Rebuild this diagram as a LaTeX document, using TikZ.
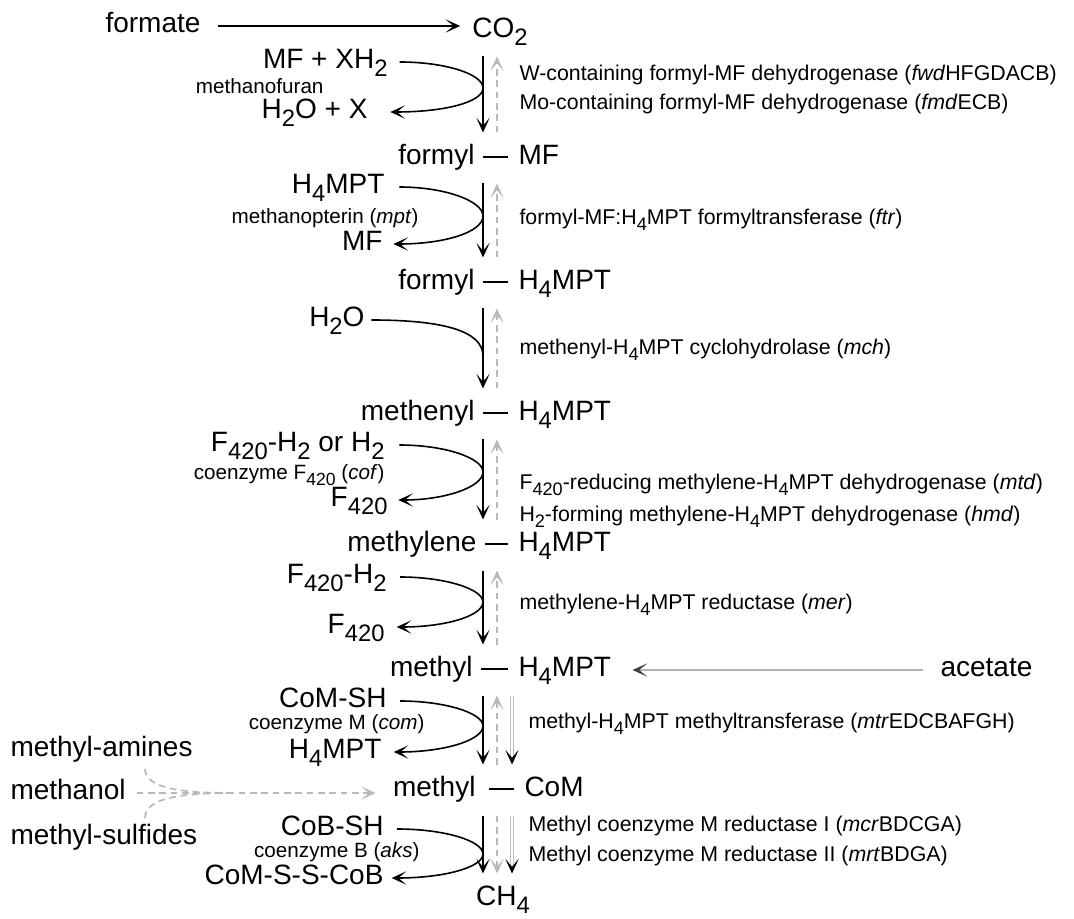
\documentclass[tikz,border=0pt]{standalone}
\usepackage{fontspec}
\setmainfont{Liberation Sans}
\usepackage{graphicx}
\usetikzlibrary{arrows.meta}

\newcommand{\lo}[1]{\raisebox{-0.28em}{\scalebox{0.85}{#1}}}

\tikzset{every picture/.style={line width=0.75pt}}
\tikzset{
  cpd/.style={inner sep=0.75pt, font=\fontsize{21}{25}\selectfont, text height=15pt, text depth=5pt},
  enz/.style={inner sep=0.75pt, anchor=west, font=\fontsize{16}{19}\selectfont},
  cof/.style={inner sep=0.75pt, anchor=east, font=\fontsize{15.5}{18}\selectfont},
  fwd/.style={line width=1.5pt, -{Stealth[length=11pt,width=10pt,inset=6pt]}, shorten <=8pt, shorten >=8pt},
  alt/.style={line width=1.3pt, color=gray!55, dash pattern=on 5pt off 3.5pt, -{Stealth[length=11pt,width=10pt,inset=6pt]}, shorten <=8pt, shorten >=8pt},
  hollow/.style={draw=gray!50, double=white, double distance=1.5pt, line width=0.5pt, -{Stealth[length=11pt,width=10pt,inset=6pt,color=black]}, shorten <=8pt, shorten >=8pt},
  side/.style={line width=1.2pt, -{Stealth[length=11pt,width=10pt,inset=6pt]}},
  bond/.style={line width=1.1pt},
}

\begin{document}
\begin{tikzpicture}[x=0.75pt,y=0.75pt,yscale=-1,xscale=1]
\useasboundingbox (0,0) rectangle (1074,919);

% Text Node
\node[cpd,anchor=west] (fmt) at (104,26) {formate};
% Text Node
\node[cpd] (co2) at (500,31) {CO\lo{2}};
%Straight Lines
\draw[side, line width=1.1pt, shorten <=12pt, shorten >=8pt] (fmt.east) -- (fmt.east -| co2.west);

% main column
\node[cpd,anchor=east] (r1l) at (476,158) {formyl};
\node[cpd,anchor=west] (r1r) at (517,158) {MF};
\node[cpd,anchor=east] (r2l) at (476,283) {formyl};
\node[cpd,anchor=west] (r2r) at (517,283) {H\lo{4}MPT};
\node[cpd,anchor=east] (r3l) at (476,414) {methenyl};
\node[cpd,anchor=west] (r3r) at (517,414) {H\lo{4}MPT};
\node[cpd,anchor=east] (r4l) at (478,545) {methylene};
\node[cpd,anchor=west] (r4r) at (517,545) {H\lo{4}MPT};
\node[cpd,anchor=east] (r5l) at (474,670) {methyl};
\node[cpd,anchor=west] (r5r) at (517,670) {H\lo{4}MPT};
\node[cpd,anchor=east] (r6l) at (477,790) {methyl};
\node[cpd,anchor=west] (r6r) at (523,790) {CoM};
\node[cpd] (ch4) at (503,899) {CH\lo{4}};

\draw[bond] ([shift={(7,-1)}]r1l.east) -- ([shift={(-9,-1)}]r1r.west);
\draw[bond] ([shift={(7,-1)}]r2l.east) -- ([shift={(-9,-1)}]r2r.west);
\draw[bond] ([shift={(7,-1)}]r3l.east) -- ([shift={(-9,-1)}]r3r.west);
\draw[bond] ([shift={(7,-1)}]r4l.east) -- ([shift={(-9,-1)}]r4r.west);
\draw[bond] ([shift={(7,-1)}]r5l.east) -- ([shift={(-9,-1)}]r5r.west);
\draw[bond] ([shift={(12,-1)}]r6l.east) -- ([shift={(-9,-1)}]r6r.west);

\coordinate (colB) at (483,0);
\coordinate (colG) at (497,0);
\coordinate (colH) at (512,0);

%Straight Lines
\draw[fwd] (colB |- co2.south) -- (colB |- r1l.north);
\draw[alt] (colG |- r1l.north) -- (colG |- co2.south);
\draw[fwd] (colB |- r1l.south) -- (colB |- r2l.north);
\draw[alt] (colG |- r2l.north) -- (colG |- r1l.south);
\draw[fwd] (colB |- r2l.south) -- (colB |- r3l.north);
\draw[alt] (colG |- r3l.north) -- (colG |- r2l.south);
\draw[fwd] (colB |- r3l.south) -- (colB |- r4l.north);
\draw[alt] (colG |- r4l.north) -- (colG |- r3l.south);
\draw[fwd] (colB |- r4l.south) -- (colB |- r5l.north);
\draw[alt] (colG |- r5l.north) -- (colG |- r4l.south);
\draw[fwd] (colB |- r5l.south) -- (colB |- r6l.north);
\draw[alt] (colG |- r6l.north) -- (colG |- r5l.south);
\draw[hollow] (colH |- r5l.south) -- (colH |- r6l.north);
\draw[fwd] (colB |- r6l.south) -- (colB |- ch4.north);
\draw[alt] (colG |- r6l.south) -- (colG |- ch4.north);
\draw[hollow] (colH |- r6l.south) -- (colH |- ch4.north);

% step 1
\node[cpd,anchor=east] (mfx) at (389,62) {MF + XH\lo{2}};
\node[cof] (mfn) at (325,86) {methanofuran};
\node[cpd,anchor=east] (h2ox) at (369,112) {H\lo{2}O + X};
%Curve Lines
\draw[side, shorten <=8pt, shorten >=16pt] (mfx.east) .. controls (445,62) and (483,74) .. (483,88) .. controls (483,102) and (445,112) .. (h2ox.east);

% step 2
\node[cpd,anchor=east] (h4a) at (386,187) {H\lo{4}MPT};
\node[cof] (mpt) at (420,218) {methanopterin (\textit{mpt})};
\node[cpd,anchor=east] (mfa) at (384,244) {MF};
%Curve Lines
\draw[side, shorten <=10pt, shorten >=7pt] (h4a.east) .. controls (445,187) and (483,201) .. (483,216) .. controls (483,232) and (445,244) .. (mfa.east);

% step 3
\node[cpd,anchor=east] (h2o) at (366,320) {H\lo{2}O};
%Curve Lines
\draw[line width=1.2pt, shorten <=4pt] (h2o.east) .. controls (440,320) and (483,330) .. (483,356);

% step 4
\node[cpd,anchor=east] (f4h) at (386,445) {F\lo{420}-H\lo{2} or H\lo{2}};
\node[cof] (cof) at (386,475) {coenzyme F\lo{420} (\textit{cof})};
\node[cpd,anchor=east] (f4a) at (389,500) {F\lo{420}};
%Curve Lines
\draw[side, shorten <=10pt, shorten >=7pt] (f4h.east) .. controls (445,445) and (483,458) .. (483,472) .. controls (483,487) and (445,500) .. (f4a.east);

% step 5
\node[cpd,anchor=east] (f5h) at (388,577) {F\lo{420}-H\lo{2}};
\node[cpd,anchor=east] (f5a) at (386,627) {F\lo{420}};
%Curve Lines
\draw[side, shorten <=9pt, shorten >=8pt] (f5h.east) .. controls (445,577) and (483,589) .. (483,602) .. controls (483,616) and (445,627) .. (f5a.east);

% step 6
\node[cpd,anchor=east] (cms) at (388,701) {CoM-SH};
\node[cof] (com) at (426,724) {coenzyme M (\textit{com})};
\node[cpd,anchor=east] (h4b) at (383,752) {H\lo{4}MPT};
%Curve Lines
\draw[side, shorten <=9pt, shorten >=8pt] (cms.east) .. controls (445,701) and (483,713) .. (483,726) .. controls (483,740) and (445,752) .. (h4b.east);

% step 7
\node[cpd,anchor=east] (cbs) at (385,829) {CoB-SH};
\node[cof] (aks) at (421,852) {coenzyme B (\textit{aks})};
\node[cpd,anchor=east] (hds) at (385,878) {CoM-S-S-CoB};
%Curve Lines
\draw[side, shorten <=9pt, shorten >=5pt] (cbs.east) .. controls (445,829) and (483,841) .. (483,854) .. controls (483,867) and (445,878) .. (hds.east);

% methyl sources
\node[cpd,anchor=west] (mam) at (9,750) {methyl-amines};
\node[cpd,anchor=west] (moh) at (9,793) {methanol};
\node[cpd,anchor=west] (msu) at (9,838) {methyl-sulfides};
\coordinate (amS) at (145,769);
\coordinate (suS) at (145,818);
\coordinate (mrg) at (232,793);
\draw[alt, shorten <=7pt, shorten >=12pt] (moh.east) -- (moh.east -| r6l.west);
\draw[line width=1.3pt, color=gray!55, dash pattern=on 5pt off 3.5pt] (amS) .. controls (145,789) and (185,793) .. (mrg);
\draw[line width=1.3pt, color=gray!55, dash pattern=on 5pt off 3.5pt] (suS) .. controls (145,797) and (185,793) .. (mrg);

% acetate
\node[cpd,anchor=west] (ace) at (939,670) {acetate};
\draw[line width=1.8pt, color=gray!60, -{Stealth[length=11pt,width=10pt,inset=6pt,color=black!75]}, shorten <=12pt, shorten >=15pt] (ace.west) -- (r5r.east);

% enzymes
\node[enz] (e1a) at (518,75) {W-containing formyl-MF dehydrogenase (\textit{fwd}HFGDACB)};
\node[enz] (e1b) at (518,104) {Mo-containing formyl-MF dehydrogenase (\textit{fmd}ECB)};
\node[enz] (e2) at (518,220) {formyl-MF:H\lo{4}MPT formyltransferase (\textit{ftr})};
\node[enz] (e3) at (518,350) {methenyl-H\lo{4}MPT cyclohydrolase (\textit{mch})};
\node[enz] (e4a) at (518,485) {F\lo{420}-reducing methylene-H\lo{4}MPT dehydrogenase (\textit{mtd})};
\node[enz] (e4b) at (518,517) {H\lo{2}-forming methylene-H\lo{4}MPT dehydrogenase (\textit{hmd})};
\node[enz] (e5) at (518,605) {methylene-H\lo{4}MPT reductase (\textit{mer})};
\node[enz] (e6) at (527,724) {methyl-H\lo{4}MPT methyltransferase (\textit{mtr}EDCBAFGH)};
\node[enz] (e7a) at (527,826) {Methyl coenzyme M reductase I (\textit{mcr}BDCGA)};
\node[enz] (e7b) at (527,856) {Methyl coenzyme M reductase II (\textit{mrt}BDGA)};

\end{tikzpicture}
\end{document}
